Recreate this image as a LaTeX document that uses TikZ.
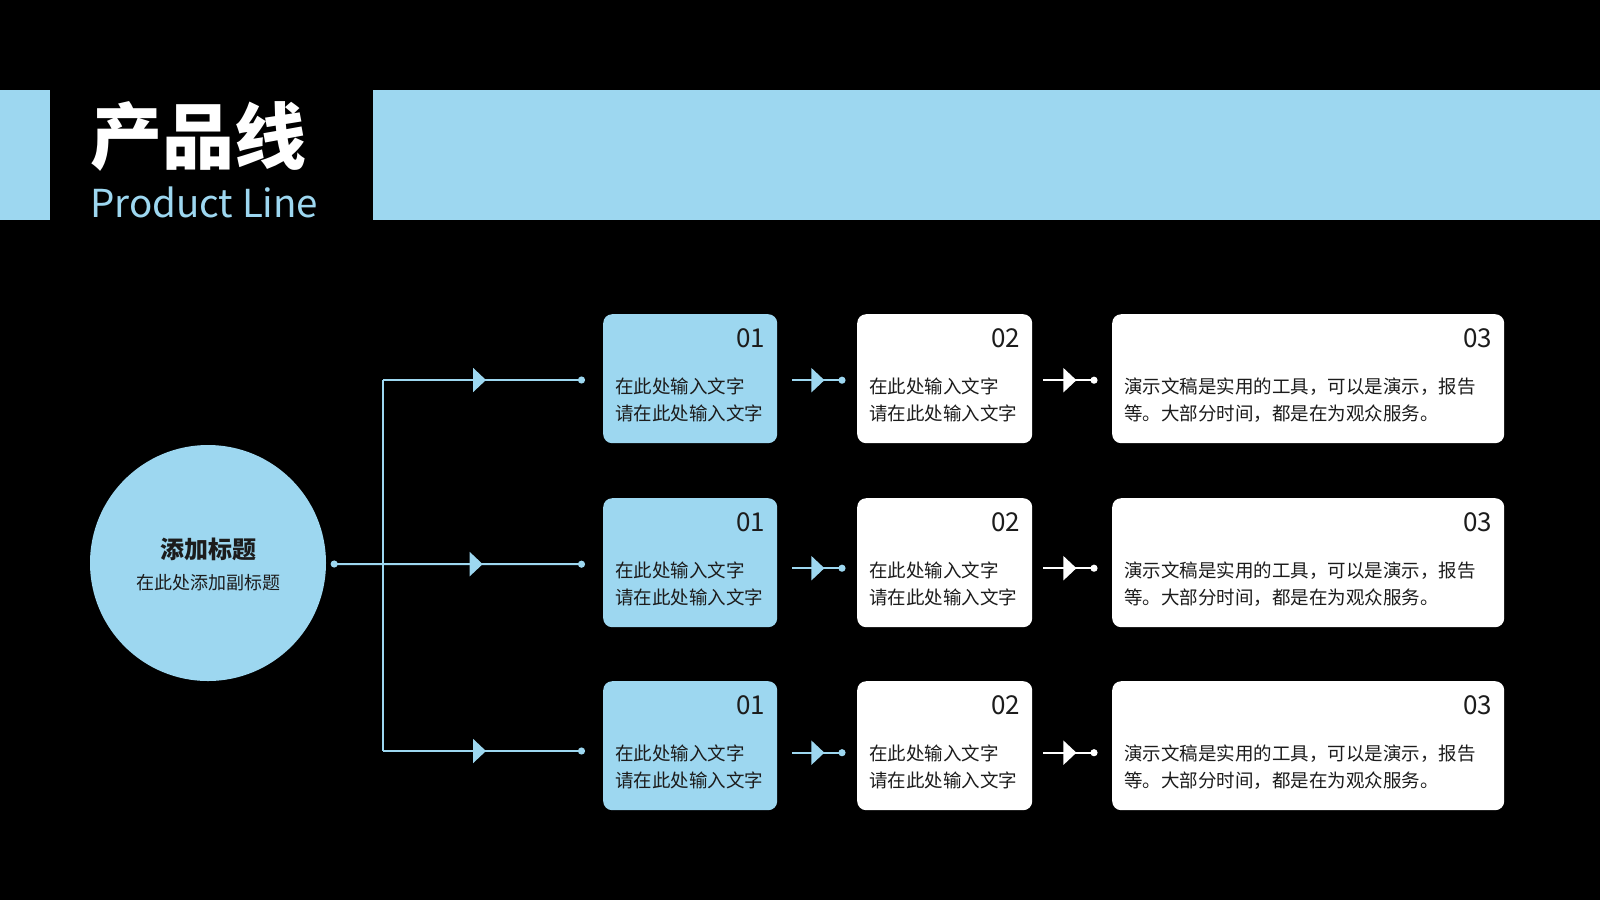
\documentclass[tikz,border=0pt]{standalone}
\usepackage{fontspec}
\setmainfont{Noto Sans CJK SC}
\usetikzlibrary{arrows.meta,decorations.markings}
\definecolor{sky}{RGB}{157,215,240}
\definecolor{ink}{RGB}{28,28,28}
\begin{document}
\begin{tikzpicture}[x=1pt,y=-1pt,
  boxb/.style={rounded corners=9pt, minimum height=129pt, anchor=north west, inner sep=0pt},
  numtxt/.style={anchor=east, inner sep=0pt, text=ink, font=\fontsize{26}{26}\selectfont},
  bodytxt/.style={anchor=west, inner sep=0pt, text=ink, align=left, font=\fontsize{18.5}{27.5}\selectfont},
  skyline/.style={draw=sky, line width=2pt},
  whiteline/.style={draw=white, line width=2pt},
  tri/.style={postaction={decorate}, decoration={markings, mark=at position #1 with {\arrow{Triangle[length=13pt,width=24pt]}}}},
  dotend/.style={-{Circle[length=7pt]}},
  dotboth/.style={{Circle[length=7pt]}-{Circle[length=7pt]}}
]
\useasboundingbox[fill=black] (0,0) rectangle (1600,900);
% header
\fill[sky] (0,90) rectangle (50,220);
\fill[sky] (373,90) rectangle (1600,220);
\node[anchor=west, inner sep=0pt, text=white, font=\fontsize{72}{72}\selectfont\bfseries] (title) at (90,136) {产品线};
\node[anchor=base west, inner sep=0pt, text=sky, font=\fontsize{38.5}{38.5}\selectfont] (subtitle) at (90,217) {Product Line};
% hub
\node[circle, fill=sky, minimum size=236pt, inner sep=0pt] (hub) at (208,563) {};
\node[inner sep=0pt, text=ink, font=\fontsize{24}{24}\selectfont\bfseries] (hubt) at (208,549) {添加标题};
\node[inner sep=0pt, text=ink, font=\fontsize{18}{18}\selectfont] (hubs) at (208,583) {在此处添加副标题};
% boxes
\foreach \r/\t in {1/314,2/498,3/681}{
  \node[boxb, fill=sky, minimum width=174pt] (b\r1) at (603,\t) {};
  \node[boxb, fill=white, minimum width=175pt] (b\r2) at (857,\t) {};
  \node[boxb, fill=white, minimum width=392pt] (b\r3) at (1112,\t) {};
  \node[numtxt] (n\r1) at ([shift={(-12,24)}]b\r1.north east) {01};
  \node[numtxt] (n\r2) at ([shift={(-12,24)}]b\r2.north east) {02};
  \node[numtxt] (n\r3) at ([shift={(-12,24)}]b\r3.north east) {03};
  \node[bodytxt] (t\r1) at ([shift={(12,86)}]b\r1.north west) {在此处输入文字\\请在此处输入文字};
  \node[bodytxt] (t\r2) at ([shift={(12,86)}]b\r2.north west) {在此处输入文字\\请在此处输入文字};
  \node[bodytxt] (t\r3) at ([shift={(12,86)}]b\r3.north west) {演示文稿是实用的工具，可以是演示，报告\\等。大部分时间，都是在为观众服务。};
}
% spine
\coordinate (spine1) at (383,380);
\coordinate (spine3) at (383,751);
\coordinate (e1) at ([xshift=-18pt]b11.west);
\coordinate (e2) at ([xshift=-18pt,yshift=-1.5pt]b21.west);
\coordinate (e3) at ([xshift=-18pt]b31.west);
\draw[skyline] (spine1) -- (spine3);
\draw[skyline, tri=103pt, dotend] (spine1) -- (spine1 -| e1);
\draw[skyline, tri=152pt, dotboth] ([xshift=4.5pt,yshift=-1pt]hub.east) -- (e2);
\draw[skyline, tri=103pt, dotend] (spine3) -- (spine3 -| e3);
% inner connectors
\foreach \r/\dy in {1/-1.5,2/-5.5,3/-7}{
  \draw[skyline, tri=32pt, dotend] ([shift={(15,-\dy)}]b\r1.east) -- ([shift={(-11.5,-\dy)}]b\r2.west);
  \draw[whiteline, tri=33pt, dotend] ([shift={(11,-\dy)}]b\r2.east) -- ([shift={(-14.5,-\dy)}]b\r3.west);
}
\end{tikzpicture}
\end{document}
